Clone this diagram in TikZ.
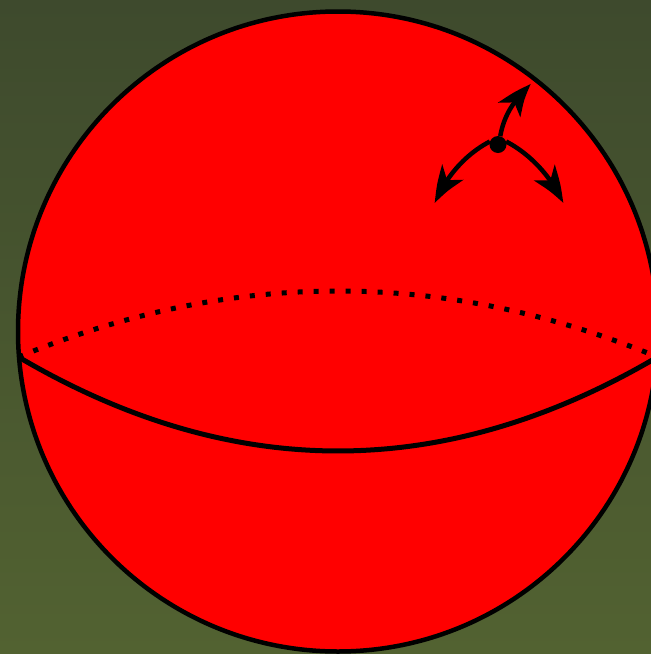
\documentclass[tikz,border=0pt]{standalone}
\usetikzlibrary{arrows.meta,bending}
\definecolor{bgtop}{RGB}{62,74,45}
\definecolor{bgbot}{RGB}{82,98,49}
\definecolor{ballred}{RGB}{255,0,0}
\tikzset{
  ballline/.style={line width=4.5pt, draw=black},
  backline/.style={line width=5pt, dash pattern=on 5pt off 11pt},
  frontline/.style={line width=5pt},
  motion/.style={line width=4.5pt, -{Stealth[length=36pt,width=26pt,inset=10pt,bend]}},
}
\begin{document}
\begin{tikzpicture}[x=1pt,y=-1pt]
\useasboundingbox (0,0) rectangle (651,654);
\clip (0,0) rectangle (651,654);
\shade[top color=bgtop, bottom color=bgbot] (0,0) rectangle (651,654);
\node[circle, minimum size=640pt, inner sep=0pt, fill=ballred, ballline] (ball) at (338,331.5) {};
\coordinate (eqL) at (18.5,357);
\coordinate (eqR) at (657.5,357);
\draw[backline] (eqL) .. controls (231.3,269) and (444.7,269) .. (eqR);
\draw[frontline] (eqL) .. controls (231.3,482.3) and (444.7,482.3) .. (eqR);
\node[circle, fill=black, minimum size=17pt, inner sep=0pt] (dot) at (498,144.5) {};
\coordinate (tipU) at (531,84);
\coordinate (tipL) at (435,203);
\coordinate (tipR) at (563,203);
\draw[motion] (dot.75) .. controls (504,115) and (514,100) .. (tipU);
\draw[motion] (dot.160) .. controls (466,154) and (446,176) .. (tipL);
\draw[motion] (dot.20) .. controls (530,154) and (551,176) .. (tipR);
\end{tikzpicture}
\end{document}
